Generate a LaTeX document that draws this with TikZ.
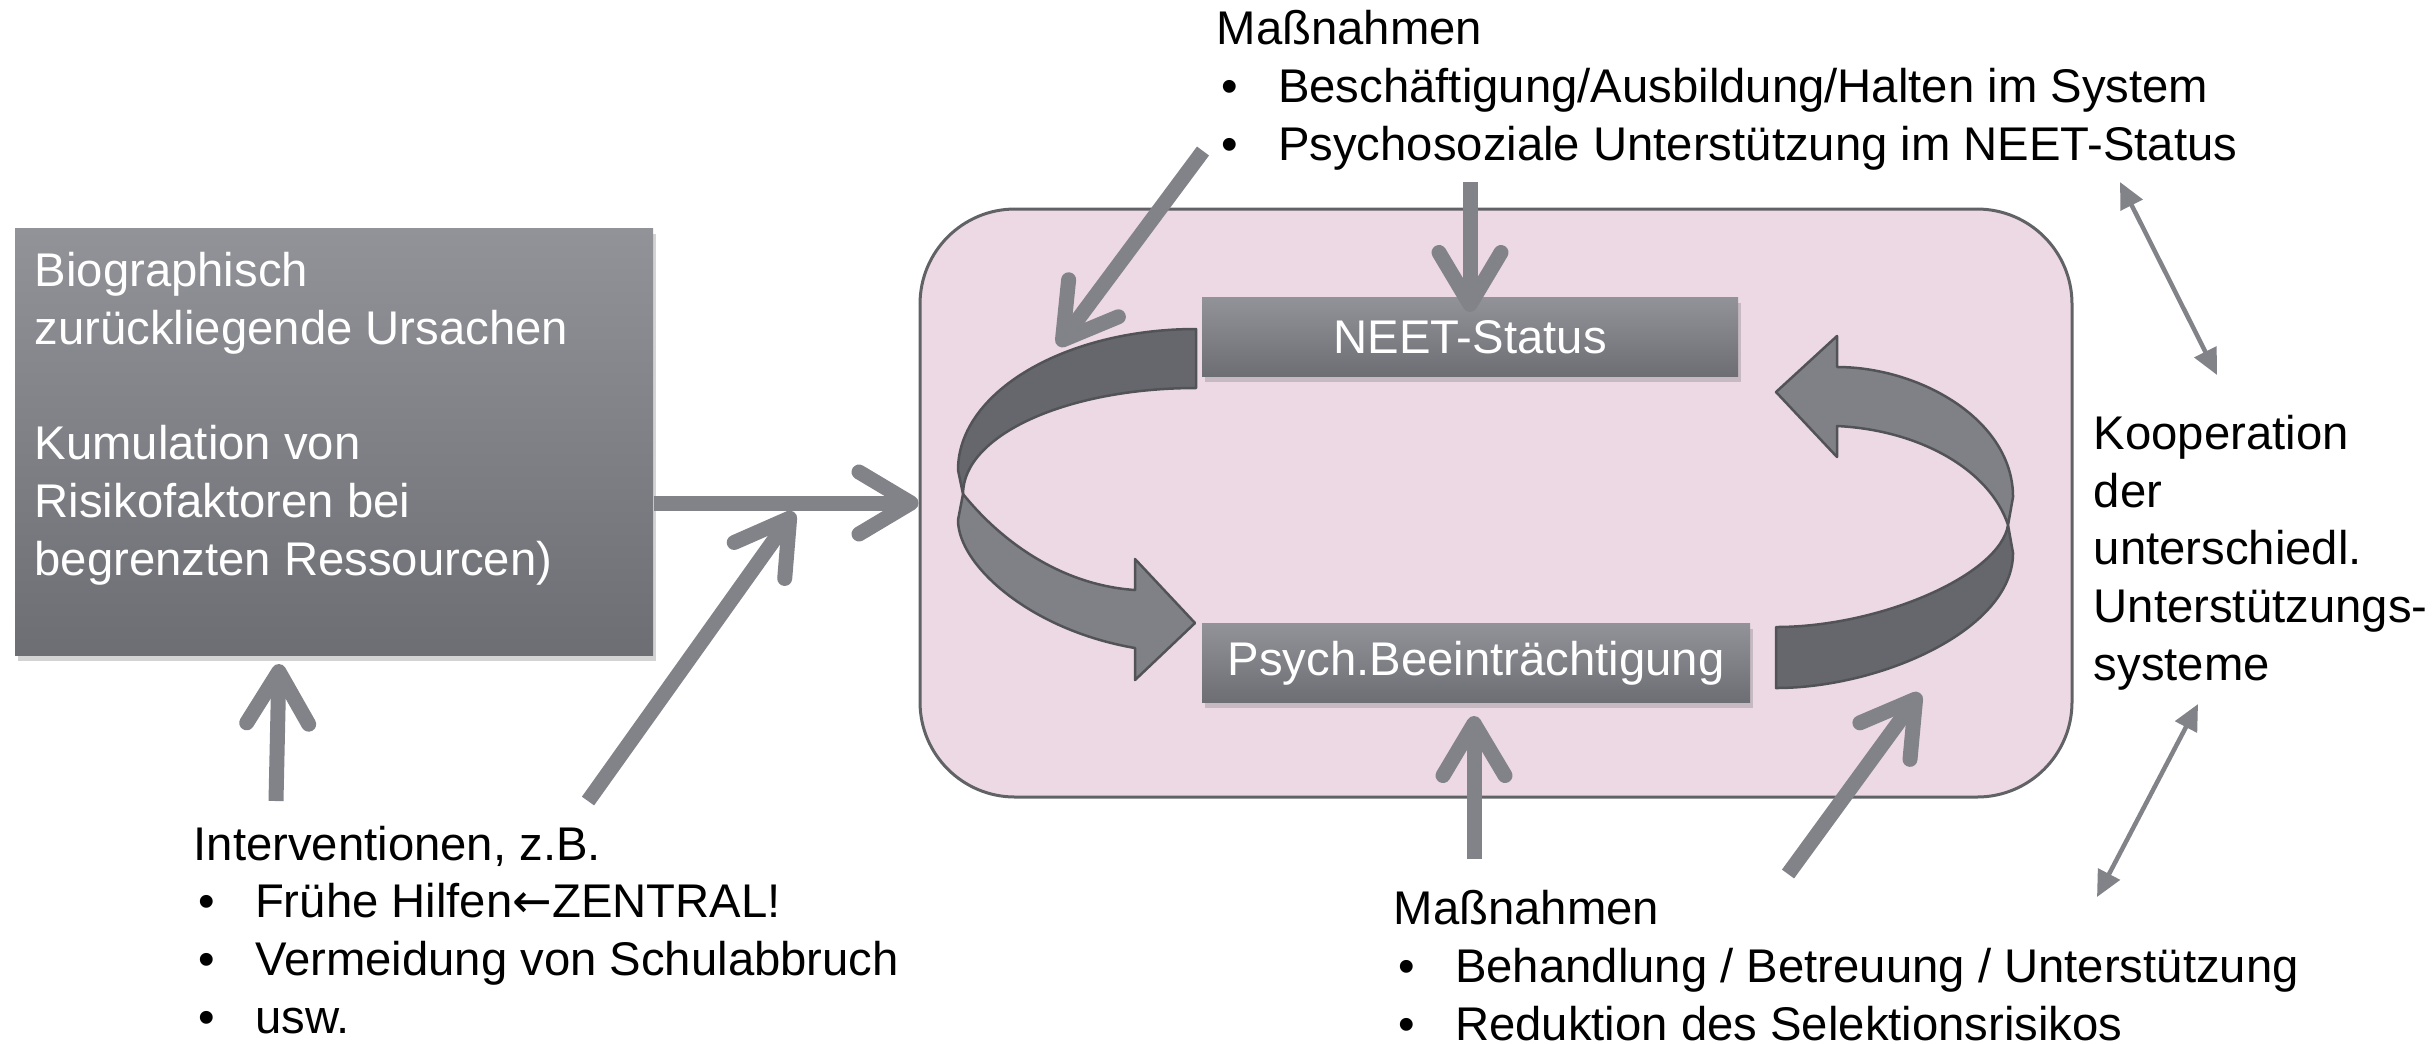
\documentclass[tikz,border=0pt]{standalone}
\usepackage{fontspec}
\setmainfont{Liberation Sans}
\newfontfamily\pfeilfont{DejaVu Sans}
\usetikzlibrary{arrows.meta,shadows}

\definecolor{pfeilgrau}{RGB}{130,131,136}
\definecolor{rosa}{RGB}{236,217,228}
\definecolor{rahmengrau}{RGB}{97,98,102}
\definecolor{boxhell}{RGB}{146,147,152}
\definecolor{boxdunkel}{RGB}{108,110,116}
\definecolor{bandhell}{RGB}{128,129,134}
\definecolor{banddunkel}{RGB}{102,103,108}
\definecolor{bandrand}{RGB}{82,83,87}

\newcommand{\schrift}{\fontsize{13.45pt}{16.4pt}\selectfont}
\newcommand{\itm}{\hspace*{0.1em}\makebox[1.2em][l]{\textbullet}}

\tikzset{
  graubox/.style={top color=boxhell, bottom color=boxdunkel, draw=none, text=white,
    font=\schrift, inner sep=0pt,
    drop shadow={shadow xshift=0.3mm, shadow yshift=-0.5mm, opacity=0.35}},
  % Anker = Grundlinie der letzten Zeile
  textblock/.style={inner sep=0pt, align=left, font=\schrift, anchor=base west},
  dickpfeil/.style={draw=pfeilgrau, line width=1.5mm,
    -{Straight Barb[length=5.2mm, width=6.2mm, round]}},
  duennpfeil/.style={draw=pfeilgrau, line width=0.45mm,
    {Triangle[length=2.6mm, width=2.4mm]}-{Triangle[length=2.6mm, width=2.4mm]}},
  band/.style={draw=bandrand, line width=0.25mm, line join=round},
}

\begin{document}
\begin{tikzpicture}[x=0.1mm,y=-0.1mm]
\useasboundingbox (0,0) rectangle (2435,1043);

% Rahmen um den Kreislauf
\node[draw=rahmengrau, fill=rosa, line width=0.3mm, rounded corners=9.5mm,
  minimum width=115.2mm, minimum height=58.8mm, inner sep=0pt] (kreis) at (1496,503) {};

% Band links (Innenseite, dann Aussenseite mit Spitze)
\filldraw[band, fill=banddunkel] (1196,329) .. controls (1065,329) and (958,392) .. (958,470)
  -- (963,494) .. controls (963,435) and (1067,388) .. (1196,388) -- cycle;
\filldraw[band, fill=bandhell] (963,494) -- (958,520) .. controls (958,565) and (1030,630) .. (1135,648)
  -- (1135,680) -- (1195,623) -- (1135,559) -- (1135,590)
  .. controls (1060,585) and (1000,540) .. (963,494) -- cycle;

% Band rechts
\filldraw[band, fill=banddunkel] (1776,627) -- (1776,688) .. controls (1880,688) and (2013,630) .. (2013,553)
  -- (2008,525) .. controls (2000,575) and (1880,627) .. (1776,627) -- cycle;
\filldraw[band, fill=bandhell] (2008,525) -- (2013,497) .. controls (2013,420) and (1920,367) .. (1837,367)
  -- (1837,336) -- (1776,392) -- (1837,457) -- (1837,426)
  .. controls (1920,430) and (1990,470) .. (2008,525) -- cycle;

% Kaesten
\node[graubox, minimum width=53.6mm, minimum height=7.9mm] (neet) at (1470,337) {NEET-Status};
\node[graubox, minimum width=54.8mm, minimum height=7.9mm] (psych) at (1476,663) {Psych.Beeinträchtigung};
\node[graubox, minimum width=63.8mm, minimum height=42.7mm] (bio) at (334,442) {};
\node[textblock, text=white] (biotext) at (34,575) {Biographisch\\zurückliegende Ursachen\\[16.4pt]Kumulation von\\Risikofaktoren bei\\begrenzten Ressourcen)};

% Texte
\node[textblock] (massoben) at (1216,160) {Maßnahmen\\\itm Beschäftigung/Ausbildung/Halten im System\\\itm Psychosoziale Unterstützung im NEET-Status};
\node[textblock] (interv) at (193,1033) {Interventionen, z.B.\\\itm Frühe Hilfen{\pfeilfont ←}ZENTRAL!\\\itm Vermeidung von Schulabbruch\\\itm usw.};
\node[textblock] (massunten) at (1393,1040) {Maßnahmen\\\itm Behandlung / Betreuung / Unterstützung\\\itm Reduktion des Selektionsrisikos};
\node[textblock] (koop) at (2093,680) {Kooperation\\der\\unterschiedl.\\Unterstützungs-\\systeme};

% Endpunkte der Pfeile
\coordinate (biofuss) at (276,801);
\coordinate (bioziel) at (279,664);
\coordinate (ivfuss) at (588,801);
\coordinate (ivziel) at (794,512);
\coordinate (mofuss) at (1203,151);
\coordinate (moziel) at (1058,346);
\coordinate (mofuss2) at (1470,182);
\coordinate (moziel2) at (1470,312);
\coordinate (mufuss) at (1474,859);
\coordinate (muziel) at (1474,716);
\coordinate (mufuss2) at (1788,874);
\coordinate (muziel2) at (1920,693);
\coordinate (koopo1) at (2120,182);
\coordinate (koopo2) at (2217,375);
\coordinate (koopu1) at (2198,704);
\coordinate (koopu2) at (2097,897);

% dicke Pfeile
\draw[dickpfeil] (bio.east |- kreis.west) -- (kreis.west);
\draw[dickpfeil] (biofuss) -- (bioziel);
\draw[dickpfeil] (ivfuss) -- (ivziel);
\draw[dickpfeil] (mofuss) -- (moziel);
\draw[dickpfeil] (mofuss2) -- (moziel2);
\draw[dickpfeil] (mufuss) -- (muziel);
\draw[dickpfeil] (mufuss2) -- (muziel2);

% Kooperation
\draw[duennpfeil] (koopo1) -- (koopo2);
\draw[duennpfeil] (koopu1) -- (koopu2);
\end{tikzpicture}
\end{document}
